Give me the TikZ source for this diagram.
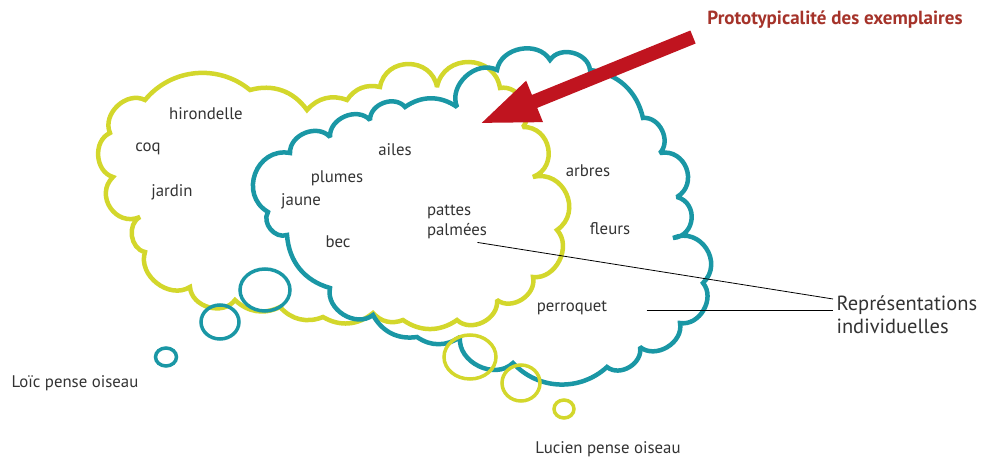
\documentclass[tikz,border=0pt]{standalone}
\usepackage{fontspec}
\setmainfont{PT Sans}
\usepackage{tikz}
\usetikzlibrary{arrows.meta,shapes.geometric}
\definecolor{color1}{HTML}{D3D72C}
\definecolor{color2}{HTML}{1A97A5}
\definecolor{color3}{HTML}{C0141F}
\definecolor{color4}{HTML}{A5332A}
\definecolor{color5}{HTML}{333333}

\begin{document}
\begin{tikzpicture}[x=1pt, y=-1pt,
    lucien/.style={color1, line width=4.5pt, miter limit=2},
    loic/.style={color2, line width=4.5pt, miter limit=2},
    flatpuff/.style={bend left=35},
    puff/.style={bend left=70, looseness=1.1},
    tallpuff/.style={bend left=80, looseness=1.4},
    bubble/.style={ellipse, draw, line width=3.5pt, inner sep=0pt},
    word/.style={color5, font=\fontsize{16.8}{20}\selectfont}]
  \useasboundingbox (0,0) rectangle (983,462);
  % Lucien's cloud
  \draw[lucien] (110,133) to[puff] (145,100) to[bend left=45] (250,90)
    to[flatpuff] (307,110) to[flatpuff] (347,100) to[flatpuff] (380,87)
    to[tallpuff] (437,87) to[tallpuff] (500,88) to[puff] (523,127)
    to[tallpuff] (533,177) to[tallpuff] (557,230) to[puff] (533,277)
    to[puff] (497,300) to[puff] (457,320) to[flatpuff] (403,320)
    to[flatpuff] (373,313) to[flatpuff] (323,317) to[flatpuff] (280,307)
    to[flatpuff] (235,300) to[puff] (190,287) to[puff] (145,252)
    to[puff] (140,217) to[tallpuff] (113,177) to[puff] (110,133) -- cycle;
  % Loic's cloud
  \draw[loic] (268,212) to[tallpuff] (290,153) to[puff] (330,137)
    to[puff] (370,120) to[puff] (405,107) to[flatpuff] (457,107)
    to[puff] (497,70) to[puff] (550,60) to[puff] (590,70)
    to[flatpuff] (643,118) to[puff] (660,153) to[tallpuff] (677,197)
    to[tallpuff] (673,238) to[tallpuff] (703,283) to[puff] (680,323)
    to[puff] (640,347) to[puff] (607,367) to[bend left=45] (513,363)
    to[puff] (460,337) to[flatpuff] (417,337) to[flatpuff] (373,315)
    to[puff] (330,288) to[flatpuff] (287,235) to[puff] (268,212) -- cycle;
  % bubbles
  \node[bubble, draw=color2, minimum width=50pt, minimum height=42pt] (lb1) at (265,290) {};
  \node[bubble, draw=color2, minimum width=38pt, minimum height=34pt] (lb2) at (220,322) {};
  \node[bubble, draw=color2, minimum width=21pt, minimum height=18pt] (lb3) at (166,357) {};
  \node[bubble, draw=color1, minimum width=52pt, minimum height=44pt] (yb1) at (470,357) {};
  \node[bubble, draw=color1, minimum width=38pt, minimum height=36pt] (yb2) at (521,383) {};
  \node[bubble, draw=color1, minimum width=20pt, minimum height=18pt] (yb3) at (564,409) {};
  % words
  \node[word] (hirondelle) at (206,114) {hirondelle};
  \node[word] (coq) at (148,149) {coq};
  \node[word] (jardin) at (172,192) {jardin};
  \node[word] (ailes) at (395,150) {ailes};
  \node[word] (plumes) at (337,178) {plumes};
  \node[word] (jaune) at (301,201) {jaune};
  \node[word] (bec) at (338,242) {bec};
  \node[word, align=left] (pattes) at (457,222) {pattes\\palmées};
  \node[word] (arbres) at (588,171) {arbres};
  \node[word] (fleurs) at (610,229) {fleurs};
  \node[word] (perroquet) at (572,308) {perroquet};
  \node[word, font=\fontsize{20.5}{23}\selectfont, align=left, anchor=west] (repr) at (833,315) {Représentations\\individuelles};
  \node[word] (loic) at (75,383) {Loïc pense oiseau};
  \node[word] (lucien) at (608,449) {Lucien pense oiseau};
  \node[color4, font=\bfseries\fontsize{19}{22}\selectfont] (proto) at (835,20) {Prototypicalité des exemplaires};
  % pointers
  \draw[line width=0.8pt] ([xshift=-13pt]pattes.south east) -- ([yshift=16pt]repr.west);
  \draw[line width=0.8pt] ([xshift=36pt,yshift=-2pt]perroquet.east) -- ([yshift=5pt]repr.west);
  \coordinate (tail) at (693,37);
  \coordinate (tip) at (479,124);
  \draw[color3, line width=14pt, -{Triangle[length=60pt, width=40pt]}] (tail) -- (tip);
\end{tikzpicture}
\end{document}
